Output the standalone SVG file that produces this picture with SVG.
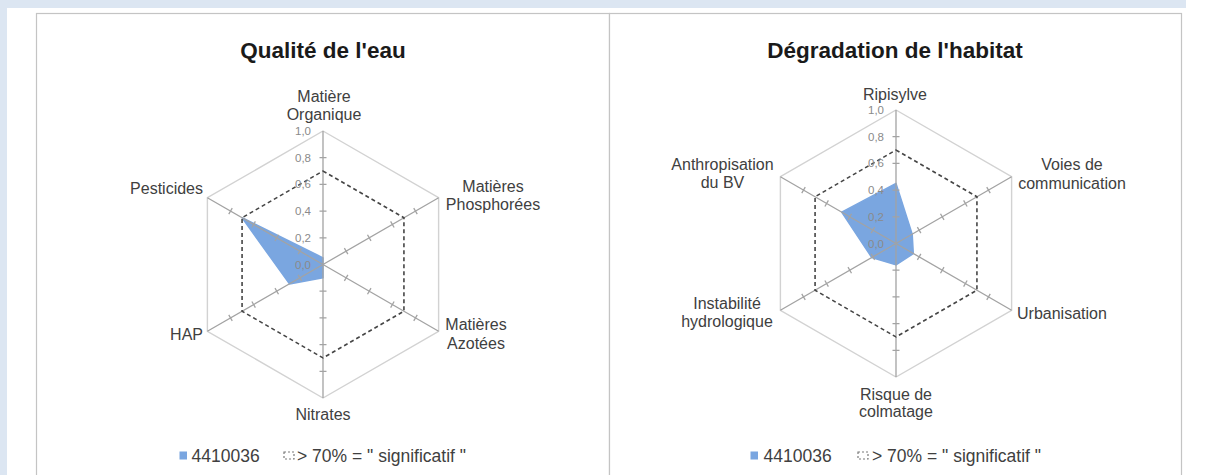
<svg xmlns="http://www.w3.org/2000/svg" xmlns:xlink="http://www.w3.org/1999/xlink" width="1205" height="475" viewBox="0 0 1205 475">
<style>
.bg{fill:#dce6f2}
.panel{fill:#ffffff;stroke:#c4c4c4;stroke-width:1.2}
.title{font-family:"Liberation Sans",Arial,sans-serif;font-weight:bold;font-size:22.5px;fill:#1a1a1a;text-anchor:middle}
.lab{font-family:"Liberation Sans",Arial,sans-serif;font-size:16px;fill:#404040}
.mid{text-anchor:middle}
.end{text-anchor:end}
.tick{font-family:"Liberation Sans",Arial,sans-serif;font-size:11.5px;fill:#8a8a8a;text-anchor:end}
.leg{font-family:"Liberation Sans",Arial,sans-serif;font-size:17.5px;fill:#404040}
.outer{fill:none;stroke:#d2d2d2;stroke-width:1.4}
.axis{fill:none;stroke:#a3a3a3;stroke-width:1.3}
.dash{fill:none;stroke:#454545;stroke-width:1.6;stroke-dasharray:4 3}
.data{fill:#7aa6e0;stroke:#7aa6e0;stroke-width:1.5;stroke-linejoin:round}
.key{fill:#7aa6e0}
.dkey{fill:none;stroke:#7a7a7a;stroke-width:1.2;stroke-dasharray:2 2}
</style>
<defs>
<g id="ax">
<path class="axis" d="M0,0V-133.5M-3.5,-26.7H3.5M-3.5,-53.4H3.5M-3.5,-80.1H3.5M-3.5,-106.8H3.5"/>
</g>
<g id="grid">
<polygon class="outer" points="0,-133.5 115.61,-66.75 115.61,66.75 0,133.5 -115.61,66.75 -115.61,-66.75"/>
</g>
<g id="axes">
<use xlink:href="#ax"/>
<use xlink:href="#ax" transform="rotate(60)"/>
<use xlink:href="#ax" transform="rotate(120)"/>
<use xlink:href="#ax" transform="rotate(180)"/>
<use xlink:href="#ax" transform="rotate(240)"/>
<use xlink:href="#ax" transform="rotate(300)"/>
<polygon class="dash" points="0,-93.45 80.93,-46.73 80.93,46.73 0,93.45 -80.93,46.73 -80.93,-46.73"/>
</g>
<g id="ticklabels">
<text class="tick" x="-12" y="4">0,0</text>
<text class="tick" x="-12" y="-22.7">0,2</text>
<text class="tick" x="-12" y="-49.4">0,4</text>
<text class="tick" x="-12" y="-76.1">0,6</text>
<text class="tick" x="-12" y="-102.8">0,8</text>
<text class="tick" x="-12" y="-129.5">1,0</text>
</g>
</defs>

<g id="background">
<rect x="0" y="0" width="1205" height="475" fill="#ffffff"/>
<rect class="bg" x="0" y="0" width="1186" height="8"/>
<rect class="bg" x="0" y="0" width="7" height="475"/>
<rect class="panel" x="36.5" y="13.5" width="573" height="470"/>
<rect class="panel" x="609.5" y="13.5" width="572" height="470"/>
</g>

<g id="chart-qualite">
<text class="title" x="323" y="58">Qualité de l'eau</text>
<g transform="translate(323,264.5)">
<use xlink:href="#grid"/>
<polygon class="data" points="0,-6.7 0,0 0,13.35 -33.5,19.4 -80.93,-46.73"/>
<use xlink:href="#axes"/>
<use xlink:href="#ticklabels"/>
</g>
<g id="axis-matiere-organique"><text class="lab mid" x="324" y="102">Matière</text><text class="lab mid" x="324" y="120">Organique</text></g>
<g id="axis-matieres-phosphorees"><text class="lab mid" x="493" y="191.5">Matières</text><text class="lab mid" x="493" y="210">Phosphorées</text></g>
<g id="axis-matieres-azotees"><text class="lab mid" x="476" y="330">Matières</text><text class="lab mid" x="476" y="349">Azotées</text></g>
<g id="axis-nitrates"><text class="lab mid" x="323" y="420">Nitrates</text></g>
<g id="axis-hap"><text class="lab end" x="203" y="340">HAP</text></g>
<g id="axis-pesticides"><text class="lab end" x="203" y="193.5">Pesticides</text></g>
<g id="legend-qualite">
<rect class="key" x="179.5" y="451.5" width="7.5" height="8"/>
<text class="leg" x="191.5" y="461.5">4410036</text>
<rect class="dkey" x="284" y="452" width="10" height="7"/>
<text class="leg" x="297" y="461.5">&gt; 70% = &quot; significatif &quot;</text>
</g>
</g>

<g id="chart-habitat">
<text class="title" x="895" y="58">Dégradation de l'habitat</text>
<g transform="translate(896,243.5)">
<use xlink:href="#grid"/>
<polygon class="data" points="0,-60.1 16.2,-9.35 17.3,10 0,21.4 -24.25,14 -54.3,-31.35"/>
<use xlink:href="#axes"/>
<use xlink:href="#ticklabels"/>
</g>
<g id="axis-ripisylve"><text class="lab mid" x="895" y="100">Ripisylve</text></g>
<g id="axis-voies"><text class="lab mid" x="1072" y="170">Voies de</text><text class="lab mid" x="1072" y="189">communication</text></g>
<g id="axis-urbanisation"><text class="lab" x="1017" y="319">Urbanisation</text></g>
<g id="axis-colmatage"><text class="lab mid" x="896" y="400">Risque de</text><text class="lab mid" x="896" y="417">colmatage</text></g>
<g id="axis-instabilite"><text class="lab mid" x="727" y="308.5">Instabilité</text><text class="lab mid" x="727" y="326.5">hydrologique</text></g>
<g id="axis-anthropisation"><text class="lab mid" x="722.5" y="169.5">Anthropisation</text><text class="lab mid" x="722.5" y="188">du BV</text></g>
<g id="legend-habitat">
<rect class="key" x="750.5" y="451.5" width="7.5" height="8"/>
<text class="leg" x="763.5" y="461.5">4410036</text>
<rect class="dkey" x="858" y="452" width="10" height="7"/>
<text class="leg" x="872" y="461.5">&gt; 70% = &quot; significatif &quot;</text>
</g>
</g>
</svg>
